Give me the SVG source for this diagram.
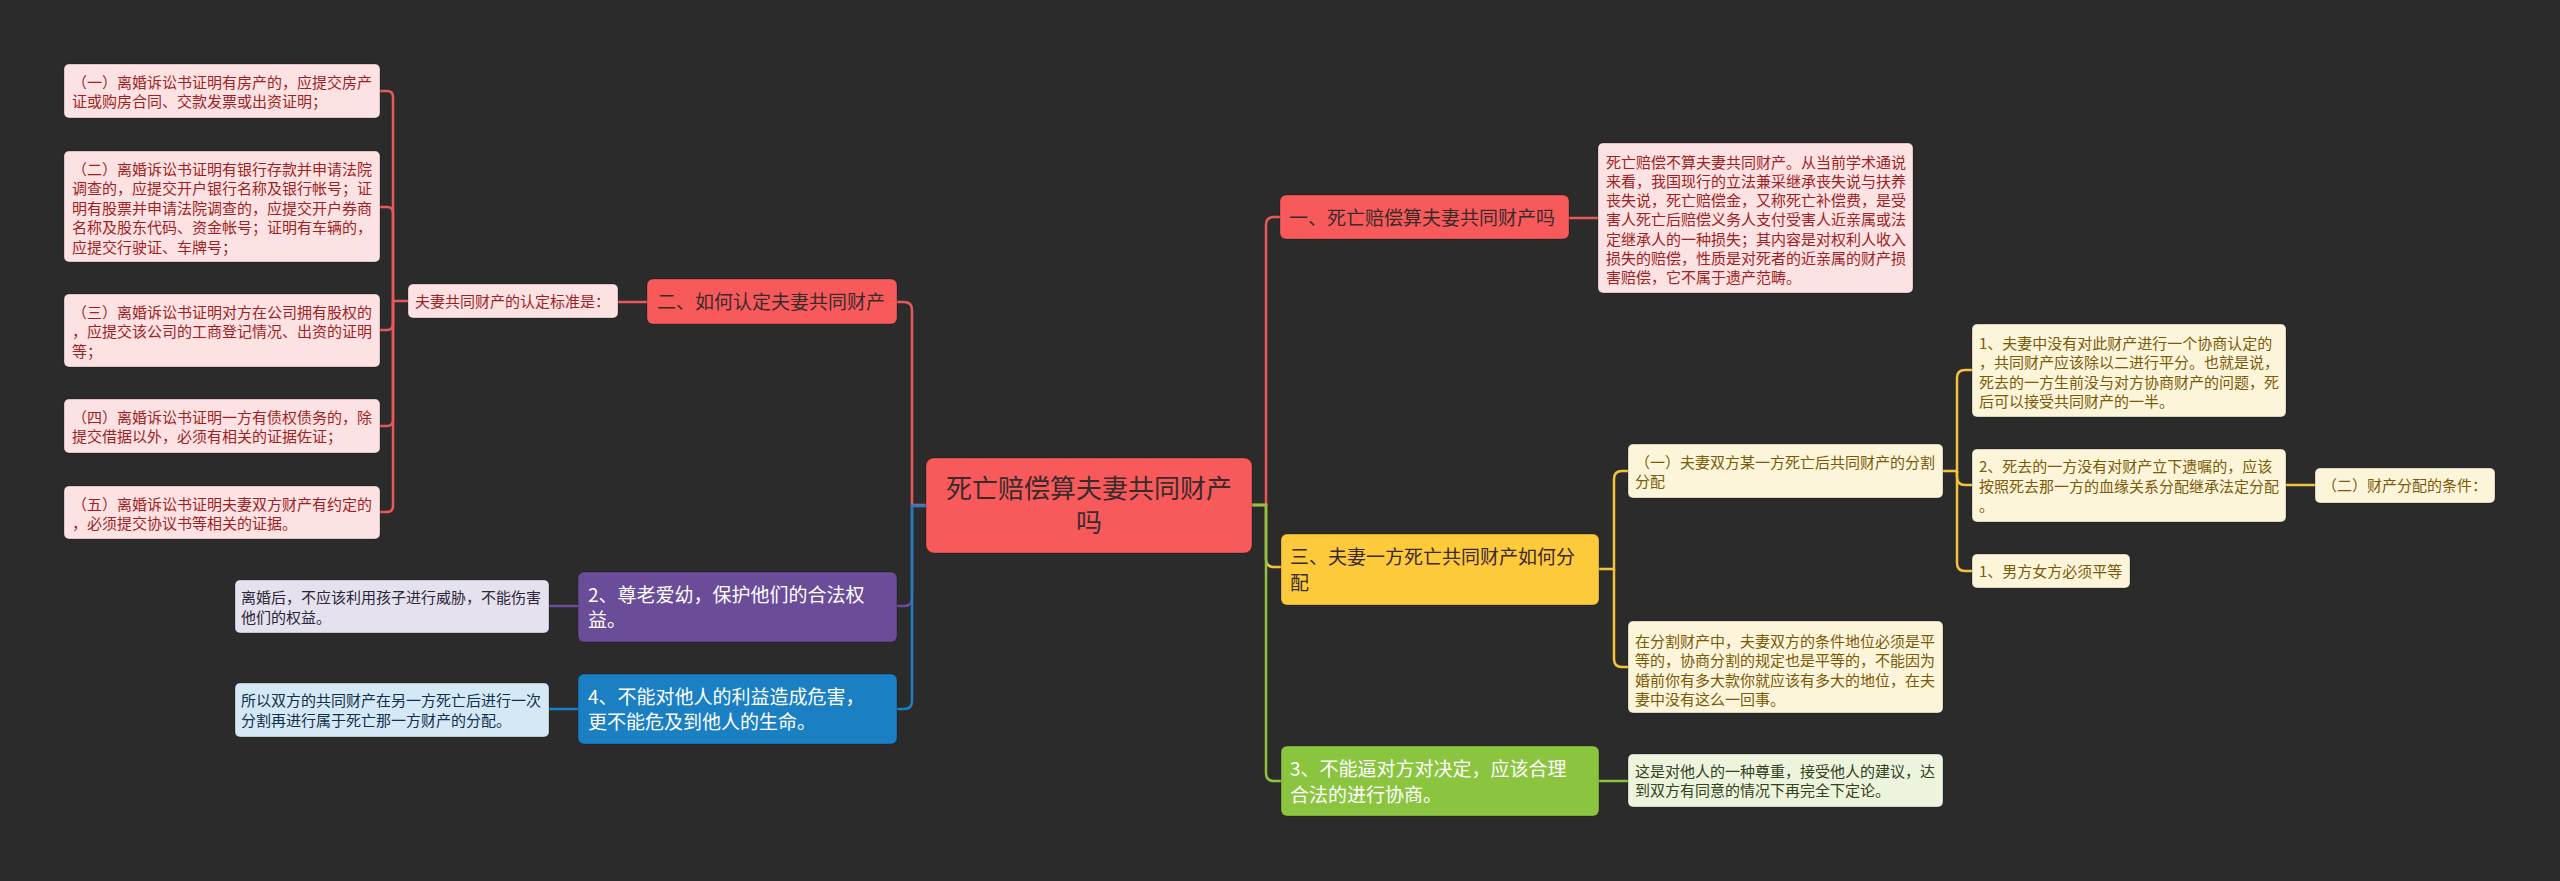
<svg xmlns="http://www.w3.org/2000/svg" width="2560" height="881" viewBox="0 0 2560 881">
<style>
text{font-family:"Noto Sans CJK SC","Noto Sans",sans-serif;}
.s{font-size:15px;}
.m{font-size:19px;}
.c{font-size:26px;fill:#3a2b2b;}
.rn{fill:#f85a5b;}
.rl{fill:#fde2e3;}
.rt{fill:#9e1f24;}
.yn{fill:#fdca3c;}
.yl{fill:#fdf5da;}
.yt{fill:#7a5a08;}
.gn{fill:#8bc53f;}
.gl{fill:#ecf4de;}
.gt{fill:#33421c;}
.pn{fill:#6b4c98;}
.pl{fill:#e6e1ee;}
.pt{fill:#2c2638;}
.bn{fill:#1a7fc3;}
.bl{fill:#d5e8f5;}
.bt{fill:#12304a;}
.dk{fill:#3a2b2b;}
.wt{fill:#ffffff;}
.box{stroke:rgba(0,0,0,0.25);stroke-width:1;}
.ln{fill:none;stroke-width:2.5;}
.lr{stroke:#e8575a;}
.ly{stroke:#f3c33c;}
.lg{stroke:#8bc53f;}
.lp{stroke:#6b4c98;}
.lb{stroke:#1a7fc3;}
</style>
<rect x="0" y="0" width="2560" height="881" fill="#2b2b2b"/>
<g id="connectors">
<path class="ln lr" d="M926,505 H912 V310 Q912,302 904,302 H897"/>
<path class="ln lp" d="M926,506 H912 V598 Q912,606 904,606 H897"/>
<path class="ln lb" d="M926,506 H912 V701 Q912,709 904,709 H897"/>
<path class="ln lr" d="M647,302 H618"/>
<path class="ln lr" d="M408,301 H393 V97 Q393,91 387,91 H380"/>
<path class="ln lr" d="M393,301 V213 Q393,207 387,207 H380"/>
<path class="ln lr" d="M393,301 V324 Q393,330 387,330 H380"/>
<path class="ln lr" d="M393,301 V420 Q393,426 387,426 H380"/>
<path class="ln lr" d="M393,301 V506 Q393,512 387,512 H380"/>
<path class="ln lp" d="M578,606 H549"/>
<path class="ln lb" d="M578,709 H549"/>
<path class="ln lr" d="M1252,505 H1266 V225 Q1266,217 1274,217 H1280"/>
<path class="ln ly" d="M1252,505 H1266 V559 Q1266,567 1274,567 H1281"/>
<path class="ln lg" d="M1252,505 H1266 V773 Q1266,781 1274,781 H1281"/>
<path class="ln lr" d="M1569,218 H1598"/>
<path class="ln ly" d="M1599,569 H1614 V479 Q1614,471 1622,471 H1628"/>
<path class="ln ly" d="M1614,569 V659 Q1614,667 1622,667 H1628"/>
<path class="ln ly" d="M1943,471 H1957 V378 Q1957,370 1965,370 H1972"/>
<path class="ln ly" d="M1957,471 V477 Q1957,485 1965,485 H1972"/>
<path class="ln ly" d="M1957,471 V563 Q1957,571 1965,571 H1972"/>
<path class="ln ly" d="M2286,485 H2315"/>
<path class="ln lg" d="M1599,781 H1628"/>
</g>
<g id="center">
<rect class="rn box" x="926" y="458" width="326" height="95" rx="8"/>
<text class="c" x="1089" y="498" text-anchor="middle">死亡赔偿算夫妻共同财产</text>
<text class="c" x="1089" y="532" text-anchor="middle">吗</text>
</g>
<g id="n2">
<rect class="rn box" x="647" y="279" width="250" height="45" rx="6"/>
<text class="m dk" x="657" y="309">二、如何认定夫妻共同财产</text>
</g>
<g id="n2label">
<rect class="rl box" x="408" y="284" width="210" height="34" rx="5"/>
<text class="s rt" x="415" y="307">夫妻共同财产的认定标准是：</text>
</g>
<g id="L1">
<rect class="rl box" x="64" y="64" width="316" height="54" rx="5"/>
<text class="s rt" x="72" y="87.7">（一）离婚诉讼书证明有房产的，应提交房产</text>
<text class="s rt" x="72" y="107.2">证或购房合同、交款发票或出资证明；</text>
</g>
<g id="L2">
<rect class="rl box" x="64" y="151" width="316" height="111" rx="5"/>
<text class="s rt" x="72" y="174.7">（二）离婚诉讼书证明有银行存款并申请法院</text>
<text class="s rt" x="72" y="194.2">调查的，应提交开户银行名称及银行帐号；证</text>
<text class="s rt" x="72" y="213.7">明有股票并申请法院调查的，应提交开户券商</text>
<text class="s rt" x="72" y="233.2">名称及股东代码、资金帐号；证明有车辆的，</text>
<text class="s rt" x="72" y="252.7">应提交行驶证、车牌号；</text>
</g>
<g id="L3">
<rect class="rl box" x="64" y="294" width="316" height="73" rx="5"/>
<text class="s rt" x="72" y="317.7">（三）离婚诉讼书证明对方在公司拥有股权的</text>
<text class="s rt" x="72" y="337.2">，应提交该公司的工商登记情况、出资的证明</text>
<text class="s rt" x="72" y="356.7">等；</text>
</g>
<g id="L4">
<rect class="rl box" x="64" y="399" width="316" height="54" rx="5"/>
<text class="s rt" x="72" y="422.7">（四）离婚诉讼书证明一方有债权债务的，除</text>
<text class="s rt" x="72" y="442.2">提交借据以外，必须有相关的证据佐证；</text>
</g>
<g id="L5">
<rect class="rl box" x="64" y="486" width="316" height="53" rx="5"/>
<text class="s rt" x="72" y="509.7">（五）离婚诉讼书证明夫妻双方财产有约定的</text>
<text class="s rt" x="72" y="529.2">，必须提交协议书等相关的证据。</text>
</g>
<g id="p2">
<rect class="pn box" x="578" y="572" width="319" height="70" rx="6"/>
<text class="m wt" x="588" y="601.7">2、尊老爱幼，保护他们的合法权</text>
<text class="m wt" x="588" y="627.2">益。</text>
</g>
<g id="p2leaf">
<rect class="pl box" x="235" y="580" width="314" height="53" rx="5"/>
<text class="s pt" x="241" y="603.2">离婚后，不应该利用孩子进行威胁，不能伤害</text>
<text class="s pt" x="241" y="622.7">他们的权益。</text>
</g>
<g id="b4">
<rect class="bn box" x="578" y="674" width="319" height="70" rx="6"/>
<text class="m wt" x="588" y="703.7">4、不能对他人的利益造成危害，</text>
<text class="m wt" x="588" y="729.2">更不能危及到他人的生命。</text>
</g>
<g id="b4leaf">
<rect class="bl box" x="235" y="683" width="314" height="54" rx="5"/>
<text class="s bt" x="241" y="706.2">所以双方的共同财产在另一方死亡后进行一次</text>
<text class="s bt" x="241" y="725.7">分割再进行属于死亡那一方财产的分配。</text>
</g>
<g id="n1">
<rect class="rn box" x="1280" y="195" width="289" height="44" rx="6"/>
<text class="m dk" x="1289" y="224.7">一、死亡赔偿算夫妻共同财产吗</text>
</g>
<g id="n1leaf">
<rect class="rl box" x="1598" y="143" width="315" height="150" rx="5"/>
<text class="s rt" x="1606" y="167.7">死亡赔偿不算夫妻共同财产。从当前学术通说</text>
<text class="s rt" x="1606" y="186.9">来看，我国现行的立法兼采继承丧失说与扶养</text>
<text class="s rt" x="1606" y="206.1">丧失说，死亡赔偿金，又称死亡补偿费，是受</text>
<text class="s rt" x="1606" y="225.3">害人死亡后赔偿义务人支付受害人近亲属或法</text>
<text class="s rt" x="1606" y="244.5">定继承人的一种损失；其内容是对权利人收入</text>
<text class="s rt" x="1606" y="263.7">损失的赔偿，性质是对死者的近亲属的财产损</text>
<text class="s rt" x="1606" y="282.9">害赔偿，它不属于遗产范畴。</text>
</g>
<g id="n3">
<rect class="yn box" x="1281" y="534" width="318" height="71" rx="6"/>
<text class="m dk" x="1290" y="564.2">三、夫妻一方死亡共同财产如何分</text>
<text class="m dk" x="1290" y="589.7">配</text>
</g>
<g id="n3a">
<rect class="yl box" x="1628" y="444" width="315" height="54" rx="5"/>
<text class="s yt" x="1635" y="467.7">（一）夫妻双方某一方死亡后共同财产的分割</text>
<text class="s yt" x="1635" y="487.2">分配</text>
</g>
<g id="n3a1">
<rect class="yl box" x="1972" y="324" width="314" height="93" rx="5"/>
<text class="s yt" x="1979" y="348.7">1、夫妻中没有对此财产进行一个协商认定的</text>
<text class="s yt" x="1979" y="368.2">，共同财产应该除以二进行平分。也就是说，</text>
<text class="s yt" x="1979" y="387.7">死去的一方生前没与对方协商财产的问题，死</text>
<text class="s yt" x="1979" y="407.2">后可以接受共同财产的一半。</text>
</g>
<g id="n3a2">
<rect class="yl box" x="1972" y="449" width="314" height="73" rx="5"/>
<text class="s yt" x="1979" y="472.2">2、死去的一方没有对财产立下遗嘱的，应该</text>
<text class="s yt" x="1979" y="491.7">按照死去那一方的血缘关系分配继承法定分配</text>
<text class="s yt" x="1979" y="511.2">。</text>
</g>
<g id="n3a3">
<rect class="yl box" x="1972" y="554" width="158" height="34" rx="5"/>
<text class="s yt" x="1979" y="576.7">1、男方女方必须平等</text>
</g>
<g id="n3b">
<rect class="yl box" x="2315" y="468" width="180" height="35" rx="5"/>
<text class="s yt" x="2322" y="491.2">（二）财产分配的条件：</text>
</g>
<g id="n3c">
<rect class="yl box" x="1628" y="621" width="315" height="92" rx="5"/>
<text class="s yt" x="1635" y="646.7">在分割财产中，夫妻双方的条件地位必须是平</text>
<text class="s yt" x="1635" y="666.2">等的，协商分割的规定也是平等的，不能因为</text>
<text class="s yt" x="1635" y="685.7">婚前你有多大款你就应该有多大的地位，在夫</text>
<text class="s yt" x="1635" y="705.2">妻中没有这么一回事。</text>
</g>
<g id="g3">
<rect class="gn box" x="1281" y="746" width="318" height="70" rx="6"/>
<text class="m wt" x="1290" y="776.2">3、不能逼对方对决定，应该合理</text>
<text class="m wt" x="1290" y="801.7">合法的进行协商。</text>
</g>
<g id="g3leaf">
<rect class="gl box" x="1628" y="754" width="315" height="53" rx="5"/>
<text class="s gt" x="1635" y="776.7">这是对他人的一种尊重，接受他人的建议，达</text>
<text class="s gt" x="1635" y="796.2">到双方有同意的情况下再完全下定论。</text>
</g>
</svg>
